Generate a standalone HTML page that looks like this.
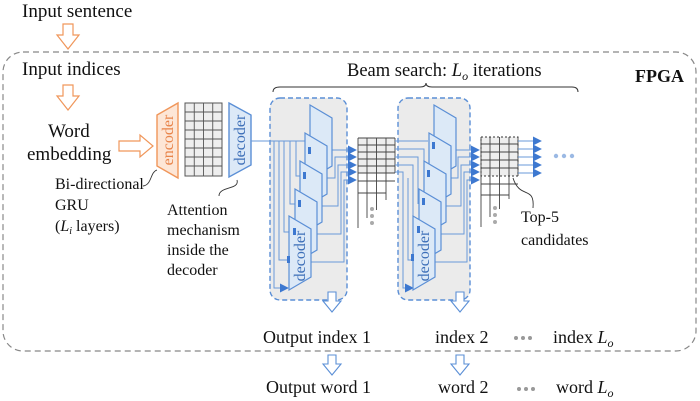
<!DOCTYPE html>
<html><head><meta charset="utf-8"><style>
html,body{margin:0;padding:0;background:#fff;width:700px;height:401px;overflow:hidden}
svg{display:block}
text{font-family:"Liberation Serif",serif;fill:#111}
</style></head><body>
<svg width="700" height="401" viewBox="0 0 700 401" xmlns="http://www.w3.org/2000/svg">
<defs>
<marker id="ah" viewBox="0 0 10 10" refX="9" refY="5" markerWidth="9" markerHeight="9" markerUnits="userSpaceOnUse" orient="auto"><path d="M0,0L10,5L0,10z" fill="#3d78d0"/></marker>
</defs>
<rect x="3" y="52" width="693" height="299" rx="20" fill="none" stroke="#888" stroke-width="1.2" stroke-dasharray="6,4"/>
<text x="22" y="17" font-size="19">Input sentence</text>
<text x="22" y="75" font-size="19">Input indices</text>
<text x="48" y="137" font-size="19">Word</text>
<text x="27" y="160" font-size="19">embedding</text>
<text x="635" y="82" font-size="18" font-weight="bold">FPGA</text>
<g fill="#fff" stroke="#f0965a" stroke-width="1.2">
<path d="M63,24h10v11h6l-11,14l-11,-14h6z"/>
<path d="M63,85h10v11h6l-11,14l-11,-14h6z"/>
<path d="M119,141h21v-6l13,11l-13,11v-6h-21z"/>
</g>
<path d="M157,115L178,103L178,178L157,166z" fill="#fde6d6" stroke="#f0965a" stroke-width="1.4"/>
<text transform="translate(173,140) rotate(-90)" text-anchor="middle" font-size="16" style="fill:#e8844a">encoder</text>
<rect x="185" y="103" width="37" height="73" fill="#eee" stroke="#555" stroke-width="1"/>
<g stroke="#555" stroke-width="0.9">
<path d="M194.25,103v73M203.5,103v73M212.75,103v73"/>
<path d="M185,112h37M185,121h37M185,130h37M185,139h37M185,148h37M185,157h37M185,166h37"/>
</g>
<path d="M229,103L251,115L251,165L229,177z" fill="#dce9f7" stroke="#5b8fd6" stroke-width="1.4"/>
<text transform="translate(245,140) rotate(-90)" text-anchor="middle" font-size="16" style="fill:#3d6fb8">decoder</text>
<path d="M143,186 C152,185 150,172 157,170" fill="none" stroke="#333" stroke-width="0.9"/>
<text x="55" y="189" font-size="16">Bi-directional</text>
<text x="55" y="210" font-size="16">GRU</text>
<text x="55" y="231" font-size="16">(<tspan font-style="italic">L</tspan><tspan font-size="10" font-style="italic" dy="3">i</tspan><tspan dy="-3"> layers)</tspan></text>
<path d="M219,196 C219,186 240,190 237,180" fill="none" stroke="#333" stroke-width="0.9"/>
<text x="167" y="215" font-size="16">Attention</text>
<text x="167" y="235" font-size="16">mechanism</text>
<text x="167" y="255" font-size="16">inside the</text>
<text x="167" y="275" font-size="16">decoder</text>
<text x="347" y="76" font-size="18.5">Beam search: <tspan font-style="italic">L</tspan><tspan font-style="italic" font-size="12" dy="4">o</tspan><tspan dy="-4"> iterations</tspan></text>
<path d="M273,92 Q273,87 280,87 L420,87 Q426,87 426,83 Q426,87 432,87 L572,87 Q578,87 578,92" fill="none" stroke="#333" stroke-width="1"/>
<rect x="270" y="98" width="77" height="202" rx="10" fill="#ebebeb" stroke="#5b8fd6" stroke-width="1.4" stroke-dasharray="5,3"/>
<rect x="398" y="98" width="72" height="202" rx="10" fill="#ebebeb" stroke="#5b8fd6" stroke-width="1.4" stroke-dasharray="5,3"/>
<g fill="none" stroke="#6a9ad8" stroke-width="1">
<path d="M251,141H305"/>
<path d="M274,141V288H288" marker-end="url(#ah)"/>
<path d="M279,141V260H294"/>
<path d="M284,141V232H299"/>
<path d="M290,141V204H304"/>
<path d="M296,141V176H309"/>
<path d="M332,150H356" marker-end="url(#ah)"/>
<path d="M327,178H335V157H356" marker-end="url(#ah)"/>
<path d="M322,206H338V165H356" marker-end="url(#ah)"/>
<path d="M317,234H341V172H356" marker-end="url(#ah)"/>
<path d="M311,262H344V180H356" marker-end="url(#ah)"/>
</g>
<g fill="#dce9f7" stroke="#5b8fd6" stroke-width="1.2">
<path d="M310,105L332,118L332,166L310,179z"/>
<path d="M305,133L327,146L327,194L305,207z"/>
<path d="M300,161L322,174L322,222L300,235z"/>
<path d="M295,189L317,202L317,250L295,263z"/>
<path d="M289,216L311,229L311,277L289,290z"/>
</g>
<g fill="#3d78d0"><rect x="308" y="147" width="3" height="7"/><rect x="303" y="172" width="3" height="7"/><rect x="298" y="200" width="3" height="7"/><rect x="293" y="228" width="3" height="7"/><rect x="287" y="256" width="3" height="7"/></g>
<text transform="translate(305,256) rotate(-90)" text-anchor="middle" font-size="16" style="fill:#3d6fb8">decoder</text>
<rect x="358" y="138" width="37" height="35" fill="#eee"/>
<g stroke="#444" stroke-width="0.9" fill="none">
<path d="M358,138v90M367,138v80M376.5,138v72M386,138v62M395,138v35"/>
<path d="M358,138h37M358,145h37M358,152h37M358,159h37M358,166h37M358,173h37M358,181h37M358,193h28"/>
</g>
<g fill="#aaa"><circle cx="372" cy="209" r="2"/><circle cx="372" cy="216" r="2"/><circle cx="372" cy="223" r="2"/></g>
<g fill="none" stroke="#6a9ad8" stroke-width="1">
<path d="M395,141H428"/><path d="M395,149H424V176"/><path d="M395,157H418V204"/><path d="M395,165H413V232"/><path d="M395,172H403V288H413" marker-end="url(#ah)"/>
<path d="M408,178V260H419"/>
<path d="M454,150H479" marker-end="url(#ah)"/>
<path d="M449,178H458V157H479" marker-end="url(#ah)"/>
<path d="M444,206H461V165H479" marker-end="url(#ah)"/>
<path d="M439,234H464V172H479" marker-end="url(#ah)"/>
<path d="M434,262H467V180H479" marker-end="url(#ah)"/>
</g>
<g fill="#dce9f7" stroke="#5b8fd6" stroke-width="1.2">
<path d="M434,105L456,118L456,166L434,179z"/>
<path d="M429,133L451,146L451,194L429,207z"/>
<path d="M424,161L446,174L446,222L424,235z"/>
<path d="M419,189L441,202L441,250L419,263z"/>
<path d="M413,216L435,229L435,277L413,290z"/>
</g>
<g fill="#3d78d0"><rect x="432" y="142" width="3" height="7"/><rect x="427" y="170" width="3" height="7"/><rect x="422" y="198" width="3" height="7"/><rect x="417" y="226" width="3" height="7"/><rect x="411" y="254" width="3" height="7"/></g>
<text transform="translate(429,256) rotate(-90)" text-anchor="middle" font-size="16" style="fill:#3d6fb8">decoder</text>
<rect x="481" y="137" width="37" height="39" fill="#eee"/>
<g stroke="#444" stroke-width="0.9" fill="none">
<path d="M481,137v90M490,137v80M499.5,137v72M509,137v62M518,137v39"/>
<path d="M481,144h37M481,152h37M481,160h37M481,168h37M481,184h37M481,195h28"/>
</g>
<rect x="481" y="137" width="37" height="39" fill="none" stroke="#333" stroke-dasharray="2,2"/>
<g fill="#aaa"><circle cx="495" cy="208" r="2"/><circle cx="495" cy="215" r="2"/><circle cx="495" cy="222" r="2"/></g>
<g fill="none" stroke="#6a9ad8" stroke-width="1">
<path d="M518,141H541" marker-end="url(#ah)"/><path d="M518,149H541" marker-end="url(#ah)"/><path d="M518,157H541" marker-end="url(#ah)"/><path d="M518,165H541" marker-end="url(#ah)"/><path d="M518,173H541" marker-end="url(#ah)"/>
</g>
<g fill="#9bb9e4"><circle cx="556" cy="156" r="2.2"/><circle cx="564" cy="156" r="2.2"/><circle cx="572" cy="156" r="2.2"/></g>
<path d="M513,178 C520,200 535,185 533,208" fill="none" stroke="#333" stroke-width="0.9"/>
<text x="521" y="222" font-size="16">Top-5</text>
<text x="521" y="245" font-size="16">candidates</text>
<g fill="#fff" stroke="#5b8fd6" stroke-width="1.1">
<path d="M328,292h8v9h5l-9,11l-9,-11h5z"/>
<path d="M456,292h8v9h5l-9,11l-9,-11h5z"/>
<path d="M328,355h8v9h5l-9,11l-9,-11h5z"/>
<path d="M456,355h8v9h5l-9,11l-9,-11h5z"/>
</g>
<text x="263" y="343" font-size="18">Output index 1</text>
<text x="435" y="343" font-size="18">index 2</text>
<g fill="#999"><circle cx="516" cy="338" r="2"/><circle cx="523" cy="338" r="2"/><circle cx="530" cy="338" r="2"/></g>
<text x="553" y="343" font-size="18">index <tspan font-style="italic">L</tspan><tspan font-style="italic" font-size="12" dy="4">o</tspan></text>
<text x="266" y="393" font-size="18">Output word 1</text>
<text x="438" y="393" font-size="18">word 2</text>
<g fill="#999"><circle cx="519" cy="389" r="2"/><circle cx="526" cy="389" r="2"/><circle cx="533" cy="389" r="2"/></g>
<text x="556" y="393" font-size="18">word <tspan font-style="italic">L</tspan><tspan font-style="italic" font-size="12" dy="4">o</tspan></text>
</svg>
</body></html>
